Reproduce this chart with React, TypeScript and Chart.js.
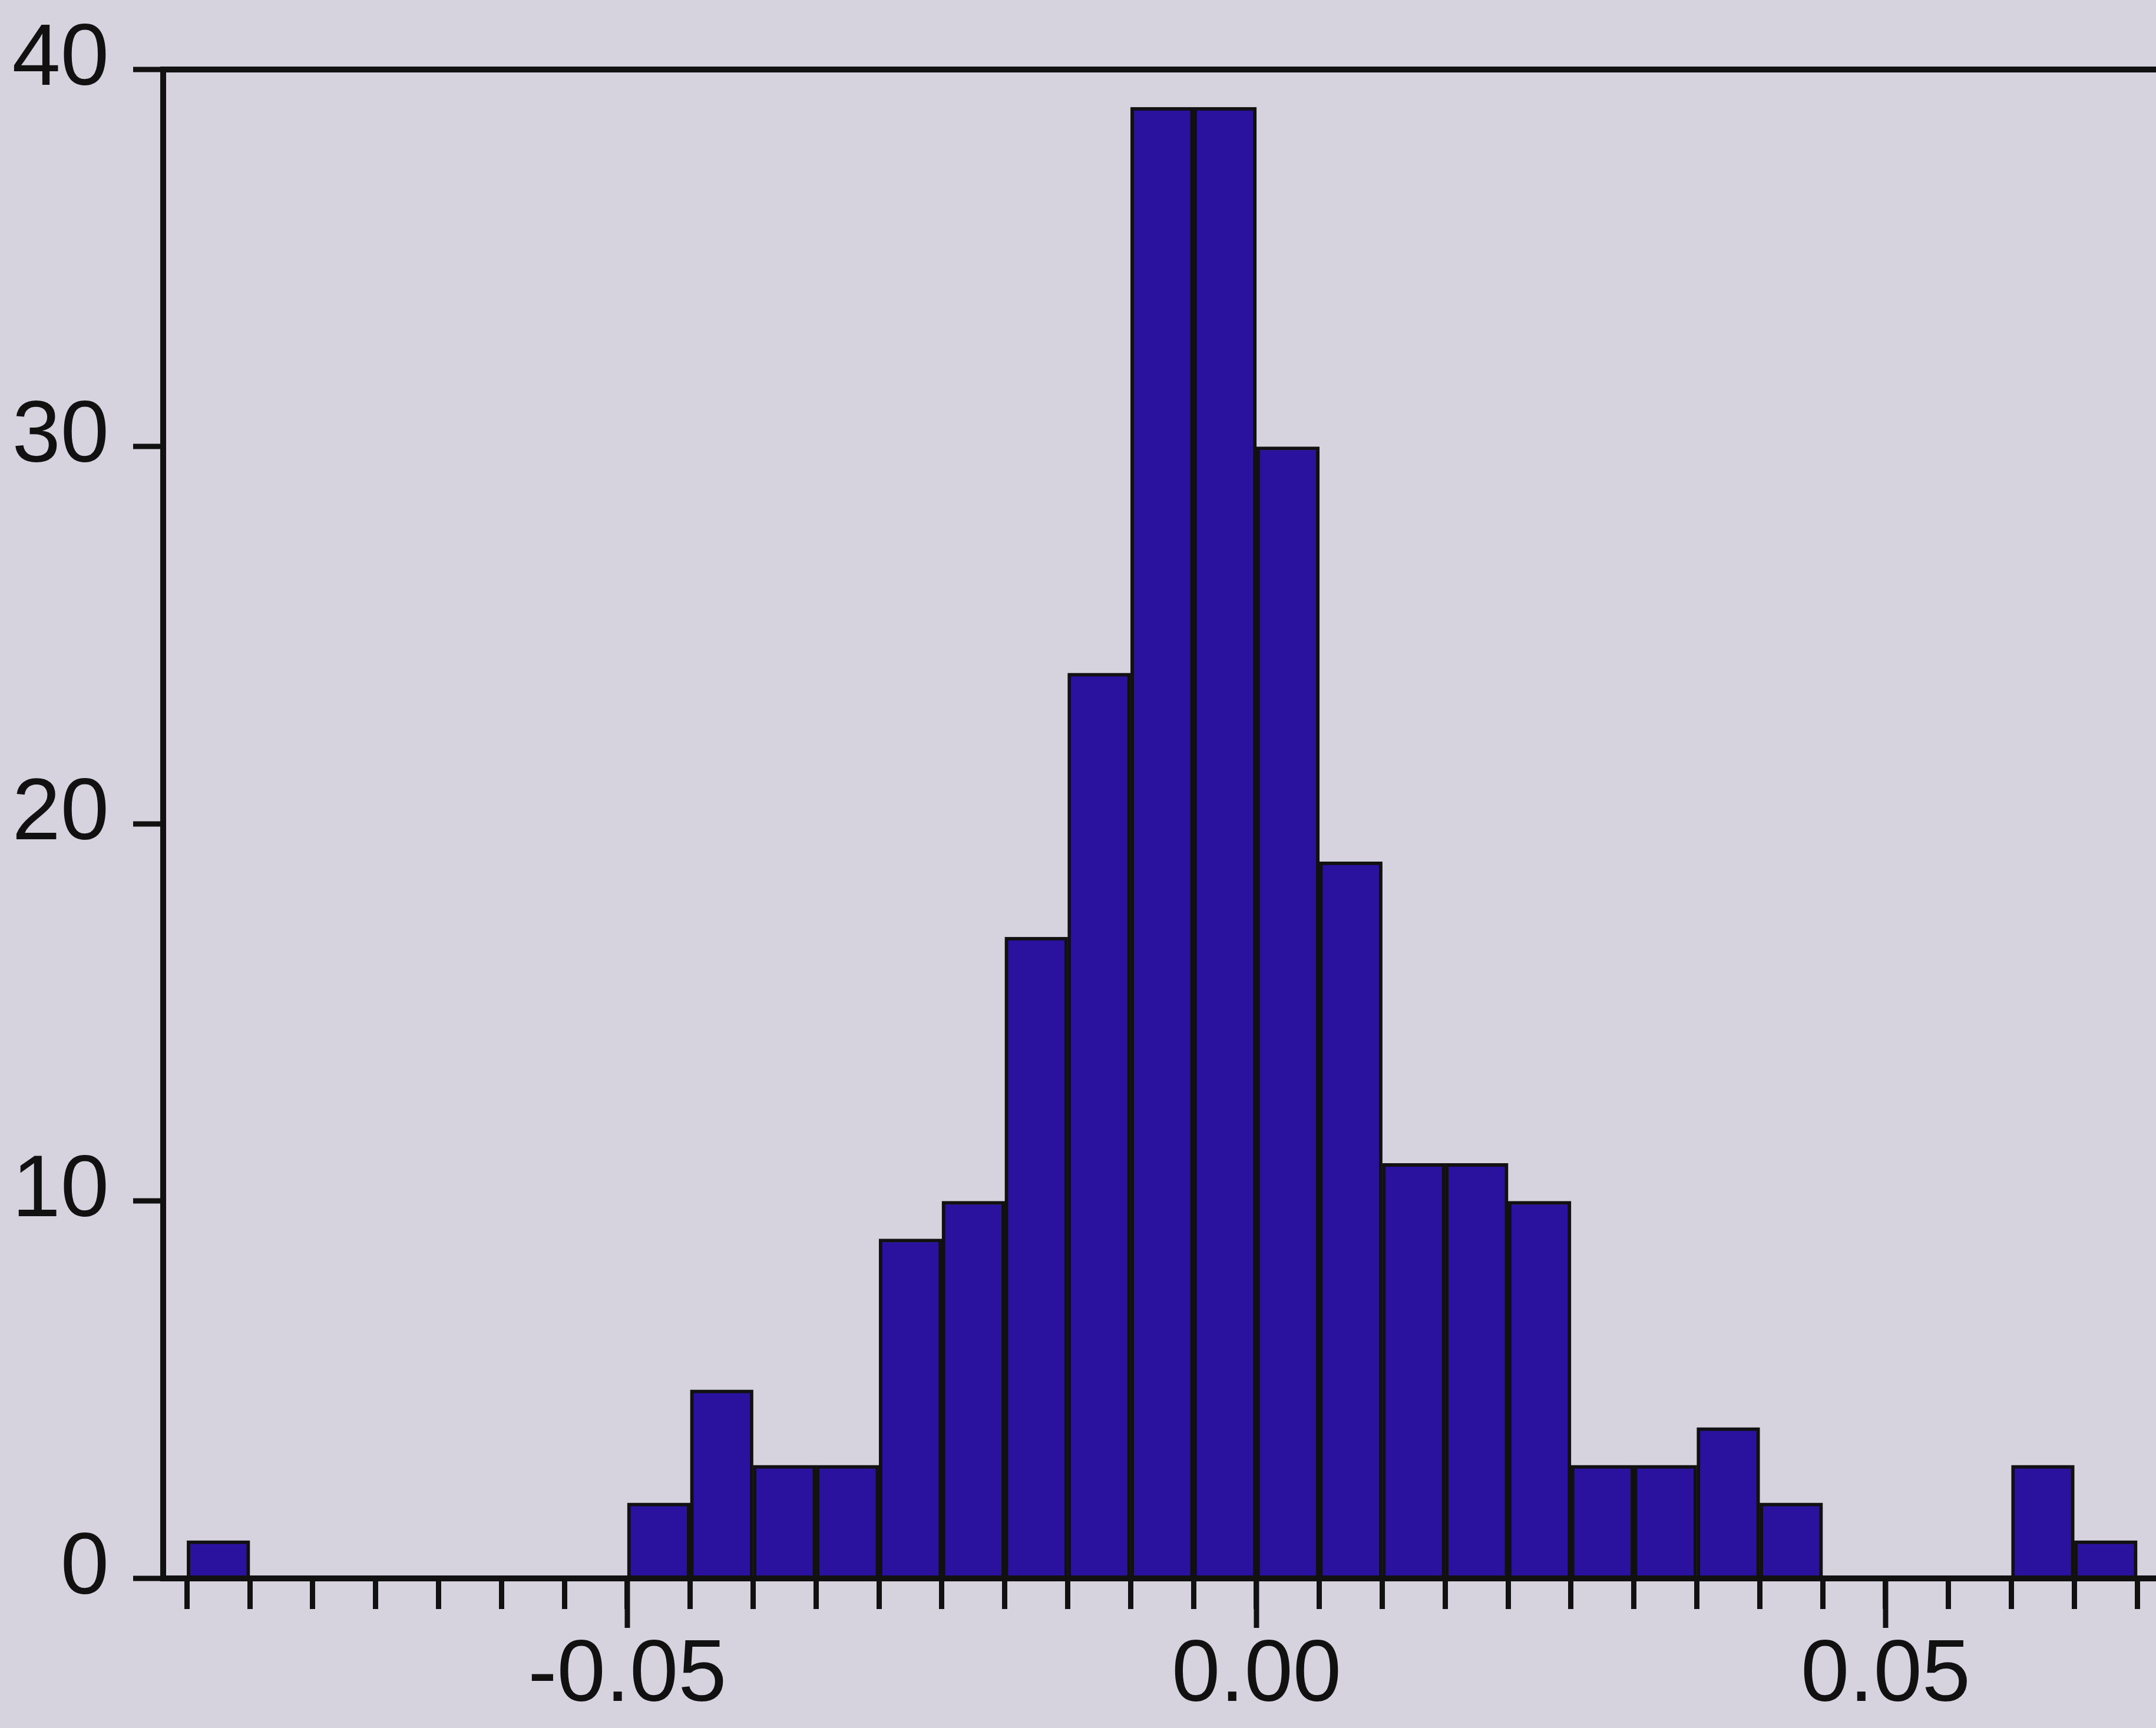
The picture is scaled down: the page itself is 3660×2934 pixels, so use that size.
import React, { useEffect, useRef } from 'react';
import { Chart, registerables } from 'chart.js';

Chart.register(...registerables);

// Histogram bins (left edges) and counts
const binWidth = 0.005;
const binStarts = [
  -0.085, -0.08, -0.075, -0.07, -0.065, -0.06, -0.055, -0.05, -0.045, -0.04,
  -0.035, -0.03, -0.025, -0.02, -0.015, -0.01, -0.005, 0.0, 0.005, 0.01,
  0.015, 0.02, 0.025, 0.03, 0.035, 0.04, 0.045, 0.05, 0.055, 0.06, 0.065,
];
const counts = [
  1, 0, 0, 0, 0, 0, 0, 2, 5, 3,
  3, 9, 10, 17, 24, 39, 39, 30, 19, 11,
  11, 10, 3, 3, 4, 2, 0, 0, 0, 3, 1,
];

// Axis ranges and tick labels
const xMin = -0.08689;
const xMax = 0.07149;
const xStep = 0.005;
const xMajorValues = [-0.05, 0.0, 0.05];
const xTickLabels = ['-0.05', '0.00', '0.05'];
const yMin = 0;
const yMax = 40;
const yStep = 10;
const yTickLabels = ['0', '10', '20', '30', '40'];

const BG = '#d6d3df';
const BAR = '#2a129e';
const INK = '#111111';
const FONT = "'Liberation Sans', Arial, sans-serif";

const majorTickPlugin = {
  id: 'majorTicks',
  afterDraw(chart: any) {
    const s = chart.scales.x;
    const ctx = chart.ctx;
    ctx.save();
    ctx.strokeStyle = INK;
    ctx.lineWidth = 9;
    ctx.lineCap = 'butt';
    xMajorValues.forEach((v) => {
      const px = s.getPixelForValue(v);
      ctx.beginPath();
      ctx.moveTo(px, s.top);
      ctx.lineTo(px, s.top + 84);
      ctx.stroke();
    });
    ctx.restore();
  },
};

export default function App() {
  const ref = useRef<HTMLCanvasElement | null>(null);

  useEffect(() => {
    if (!ref.current) return;
    const data = binStarts.map((b, i) => ({ x: b + binWidth / 2, y: counts[i] }));
    const chart = new Chart(ref.current, {
      type: 'bar',
      data: {
        datasets: [
          {
            data,
            backgroundColor: BAR,
            borderColor: INK,
            borderWidth: 6,
            borderSkipped: 'start',
            barPercentage: 1,
            categoryPercentage: 1,
          } as any,
        ],
      },
      options: {
        animation: false,
        responsive: false,
        devicePixelRatio: 1,
        layout: { padding: { top: 0, left: 0, right: 0, bottom: 0 } },
        plugins: {
          legend: { display: false },
          tooltip: { enabled: false },
          title: { display: false },
        },
        scales: {
          x: {
            type: 'linear',
            min: xMin,
            max: xMax,
            offset: false,
            afterFit: (scale: any) => {
              scale.height = 254;
            },
            grid: {
              offset: false,
              drawOnChartArea: false,
              drawTicks: true,
              tickLength: 52,
              tickWidth: 9,
              tickColor: INK,
            },
            border: { display: true, color: INK, width: 10 },
            ticks: {
              stepSize: xStep,
              includeBounds: false,
              autoSkip: false,
              maxRotation: 0,
              minRotation: 0,
              padding: 26,
              color: INK,
              font: { family: FONT, size: 148 },
              callback: (value: any) => {
                const v = Number(value);
                const idx = xMajorValues.findIndex((m) => Math.abs(m - v) < 1e-6);
                return idx >= 0 ? xTickLabels[idx] : '';
              },
            },
          } as any,
          y: {
            type: 'linear',
            min: yMin,
            max: yMax,
            afterFit: (scale: any) => {
              scale.width = 277;
            },
            grid: {
              drawOnChartArea: true,
              drawTicks: true,
              tickLength: 51,
              tickWidth: 9,
              tickColor: INK,
              lineWidth: 10,
              color: (ctx: any) => (ctx.tick && ctx.tick.value === yMax ? INK : 'rgba(0,0,0,0)'),
            },
            border: { display: true, color: INK, width: 10 },
            ticks: {
              stepSize: yStep,
              includeBounds: false,
              padding: 41,
              labelOffset: -15,
              color: INK,
              font: { family: FONT, size: 148, lineHeight: 1.04 },
              callback: (value: any) => {
                const idx = Math.round((Number(value) - yMin) / yStep);
                return yTickLabels[idx] ?? '';
              },
            },
          } as any,
        },
      },
      plugins: [majorTickPlugin],
    });
    return () => chart.destroy();
  }, []);

  return (
    <div
      style={{
        position: 'fixed',
        left: 0,
        top: 0,
        width: 3660,
        height: 2934,
        background: BG,
        overflow: 'hidden',
      }}
    >
      <canvas ref={ref} width={3660} height={2934} style={{ width: 3660, height: 2934, display: 'block' }} />
    </div>
  );
}
